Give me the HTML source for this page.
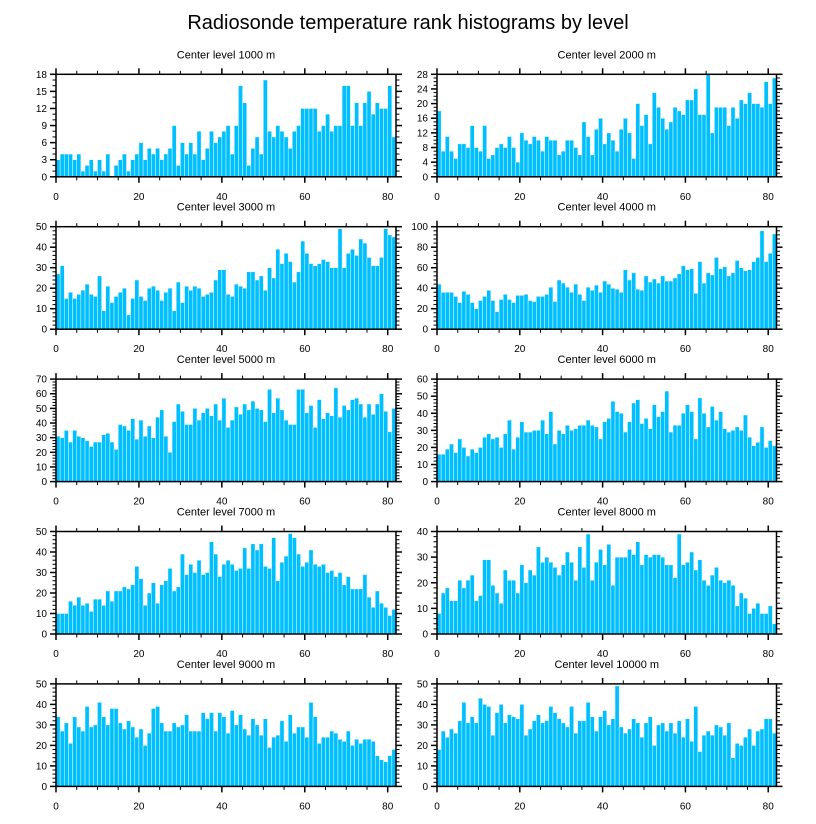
<!DOCTYPE html>
<html><head><meta charset="utf-8">
<style>
html,body{margin:0;padding:0;background:#fff;}
svg{display:block;font-family:"Liberation Sans",Arial,sans-serif;}
</style></head>
<body>
<svg id="chart" width="816" height="824" viewBox="0 0 816 824">
<text x="408" y="29" text-anchor="middle" font-size="20">Radiosonde temperature rank histograms by level</text>
</svg>
<script>
const panelTitles = ["Center level 1000 m","Center level 2000 m","Center level 3000 m","Center level 4000 m","Center level 5000 m","Center level 6000 m","Center level 7000 m","Center level 8000 m","Center level 9000 m","Center level 10000 m"];
const yMaxes = [18,28,50,100,70,60,50,40,50,50];
const yMajorSteps = [3,4,10,20,10,10,10,10,10,10];
const yMinorSteps = [1,1,2,4,2,2,2,2,2,2];
const xTicks = [0,20,40,60,80];
const counts1000 = [3,4,4,4,3,4,1,2,3,1,3,1,4,0,2,3,4,1,3,4,6,3,5,4,5,3,4,5,9,2,6,4,6,4,8,3,5,8,6,7,8,9,4,9,16,13,2,5,7,4,17,8,7,9,8,7,5,8,9,12,12,12,12,8,9,11,8,9,9,16,16,9,13,9,13,15,11,13,12,12,16,7];
const counts2000 = [18,7,11,7,5,9,9,8,14,8,7,14,5,6,8,9,8,11,8,4,12,10,9,11,10,7,11,10,10,6,7,10,10,8,6,15,11,6,13,16,9,12,10,7,13,16,12,5,20,14,17,9,23,19,16,13,15,19,18,17,21,21,24,17,17,28,12,19,19,19,14,19,16,21,20,23,20,20,19,26,20,27];
const counts3000 = [27,31,15,18,15,17,19,22,17,16,26,9,21,13,16,18,20,7,15,24,16,14,20,21,19,14,18,20,9,23,13,21,19,21,20,16,17,18,24,29,29,17,16,22,21,20,28,28,24,26,19,30,25,39,32,37,33,23,28,43,37,32,31,32,34,33,30,30,49,30,37,39,36,44,42,35,31,31,35,49,46,45];
const counts4000 = [44,36,36,36,32,26,37,34,26,20,28,32,38,28,17,29,34,29,26,33,33,34,28,27,32,32,34,41,27,48,45,41,36,44,34,28,41,38,43,36,47,44,40,39,36,58,48,55,39,38,52,46,49,45,52,47,47,50,54,62,58,59,35,66,45,55,53,70,59,61,52,55,67,60,57,58,66,70,96,66,74,93];
const counts5000 = [31,30,35,27,35,31,30,28,24,27,27,32,33,27,22,39,38,35,43,29,42,31,38,30,44,49,31,20,41,53,48,39,39,50,42,47,50,45,53,42,57,37,42,51,46,53,49,55,50,49,41,63,47,57,49,42,39,39,63,63,47,52,37,56,43,47,45,64,44,52,49,56,57,53,44,53,46,53,60,48,34,50];
const counts6000 = [16,16,19,22,17,25,20,15,19,17,20,26,28,25,26,20,28,36,19,26,35,29,29,30,30,36,28,41,22,30,28,33,30,31,33,33,36,33,32,25,35,37,47,41,40,29,35,46,48,34,37,31,45,38,41,53,29,33,33,40,45,41,25,49,40,32,44,36,41,31,29,30,32,30,39,26,21,23,32,20,24,21];
const counts7000 = [10,10,10,16,14,18,14,15,11,17,17,14,21,16,21,21,23,22,24,33,27,14,20,25,15,24,26,32,21,23,39,29,34,30,36,29,30,45,39,28,34,36,34,31,32,42,32,44,41,44,33,32,47,26,35,38,49,47,39,33,35,41,34,33,34,30,31,28,30,24,28,22,22,22,29,18,13,21,15,13,9,12];
const counts8000 = [8,16,18,13,13,21,18,21,23,13,15,29,29,19,16,12,25,21,21,16,27,20,25,23,34,28,30,28,26,23,27,32,28,21,34,26,39,21,28,33,27,35,19,30,30,30,33,31,36,27,31,30,31,31,30,27,27,22,39,27,28,32,25,29,21,19,23,26,21,20,21,19,11,16,14,8,10,12,8,8,11,4];
const counts9000 = [34,27,31,21,34,29,27,39,29,30,41,34,30,38,38,31,28,32,29,24,28,20,26,38,39,31,27,27,31,29,30,35,27,27,27,36,33,36,27,36,34,26,37,30,35,28,25,33,30,25,33,19,24,25,32,22,35,26,29,29,24,41,34,21,24,24,27,26,23,22,27,20,23,21,23,23,22,15,13,12,15,18];
const counts10000 = [18,27,24,28,26,32,41,31,34,31,43,40,39,25,36,40,31,35,34,33,40,25,28,32,35,31,32,39,36,33,31,29,39,26,32,32,41,34,27,34,37,30,33,49,29,26,28,33,31,24,31,34,20,30,31,27,31,26,32,24,33,22,39,17,25,27,25,30,29,25,31,14,21,20,24,28,20,27,28,33,33,26];
const allCounts = [counts1000,counts2000,counts3000,counts4000,counts5000,counts6000,counts7000,counts8000,counts9000,counts10000];

const NS = "http://www.w3.org/2000/svg";
const svg = document.getElementById("chart");
const XMAX = 82;
function mk(tag, attrs, parent){
  const e = document.createElementNS(NS, tag);
  for (const k in attrs) e.setAttribute(k, attrs[k]);
  parent.appendChild(e);
  return e;
}
for (let p = 0; p < 10; p++) {
  const col = p % 2, row = Math.floor(p / 2);
  const L = col === 0 ? 56 : 437, W = col === 0 ? 340 : 339.5;
  const T = 74.3 + row * 152.4, H = 102.5, B = T + H;
  const data = allCounts[p], ymax = yMaxes[p];
  const xs = v => L + v / XMAX * W;
  const ys = v => B - v / ymax * H;
  const g = mk("g", {}, svg);
  
  
  const t = mk("text", {x: L + W / 2, y: T - 16, "text-anchor": "middle", "font-size": "11"}, g);
  t.textContent = panelTitles[p];
  
  
  for (let i = 0; i < data.length; i++) {
    const r = mk("rect", {x: xs(i), y: ys(data[i]), width: xs(i + 1) - xs(i), height: B - ys(data[i]), fill: "#00bfff", stroke: "#e6f7ff", "stroke-width": "0.5"}, g);
    
    
  }
  const frame = mk("rect", {x: L, y: T, width: W, height: H, fill: "none", stroke: "#000", "stroke-width": "1.5"}, g);
  
  
  // x ticks
  for (let v = 0; v <= 80; v += 5) {
    const major = v % 20 === 0, len = major ? 6 : 3.5, x = xs(v);
    mk("line", {x1: x, x2: x, y1: B, y2: B + len, stroke: "#000", "stroke-width": major ? 1.5 : 1}, g);
    mk("line", {x1: x, x2: x, y1: T, y2: T - len, stroke: "#000", "stroke-width": major ? 1.5 : 1}, g);
  }
  for (const v of xTicks) {
    const lt = mk("text", {x: xs(v), y: B + 23, "text-anchor": "middle", "font-size": "10"}, g);
    lt.textContent = v;
    
    
  }
  // y ticks
  const ms = yMinorSteps[p], Ms = yMajorSteps[p];
  for (let v = 0; v <= ymax + 1e-9; v += ms) {
    const major = Math.abs(v / Ms - Math.round(v / Ms)) < 1e-6, len = major ? 6 : 3.5, y = ys(v);
    mk("line", {x1: L, x2: L - len, y1: y, y2: y, stroke: "#000", "stroke-width": major ? 1.5 : 1}, g);
    mk("line", {x1: L + W, x2: L + W + len, y1: y, y2: y, stroke: "#000", "stroke-width": major ? 1.5 : 1}, g);
  }
  for (let v = 0; v <= ymax + 1e-9; v += Ms) {
    const lt = mk("text", {x: L - 9, y: ys(v) + 3.5, "text-anchor": "end", "font-size": "10"}, g);
    lt.textContent = v;
    
    
  }
}
</script>
</body></html>
